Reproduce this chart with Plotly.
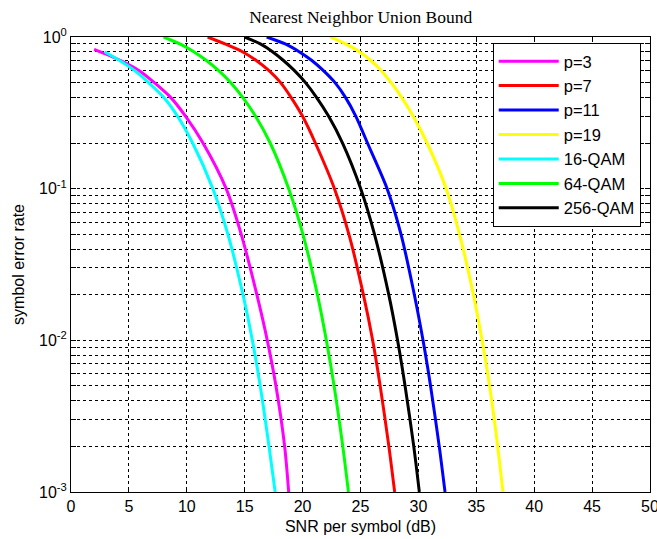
import plotly.graph_objects as go

# ---- data ----
p3_snr  = [2.0, 4.3, 5.9, 7.2, 8.6, 9.9, 11.4, 13.4, 14.7, 16.05, 16.95, 17.7, 18.45, 18.8]
p3_ser  = [0.83, 0.7, 0.6, 0.5, 0.4, 0.3, 0.2, 0.1, 0.05, 0.02, 0.01, 0.005, 0.002, 0.001]

p7_snr  = [11.8, 13.3, 14.8, 16.0, 17.1, 18.1, 19.0, 20.0, 21.1, 22.75, 24.0, 25.25, 26.05, 26.7, 27.45, 27.95]
p7_ser  = [1.0, 0.9, 0.8, 0.7, 0.6, 0.5, 0.4, 0.3, 0.2, 0.1, 0.05, 0.02, 0.01, 0.005, 0.002, 0.001]

p11_snr = [16.9, 18.5, 19.7, 20.8, 21.8, 22.8, 23.7, 24.6, 25.6, 27.3, 28.5, 29.65, 30.4, 31.05, 31.8, 32.3]
p11_ser = [1.0, 0.9, 0.8, 0.7, 0.6, 0.5, 0.4, 0.3, 0.2, 0.1, 0.05, 0.02, 0.01, 0.005, 0.002, 0.001]

p19_snr = [22.4, 23.7, 24.9, 25.9, 26.8, 27.65, 28.55, 29.55, 30.75, 32.4, 33.55, 34.75, 35.5, 36.15, 36.85, 37.3]
p19_ser = [1.0, 0.9, 0.8, 0.7, 0.6, 0.5, 0.4, 0.3, 0.2, 0.1, 0.05, 0.02, 0.01, 0.005, 0.002, 0.001]

qam16_snr = [2.9, 4.2, 5.5, 6.7, 8.0, 9.2, 10.5, 12.25, 13.55, 14.85, 15.66, 16.34, 17.1, 17.63]
qam16_ser = [0.8, 0.7, 0.6, 0.5, 0.4, 0.3, 0.2, 0.1, 0.05, 0.02, 0.01, 0.005, 0.002, 0.001]

qam64_snr = [8.0, 9.4, 10.6, 11.7, 12.75, 13.8, 14.83, 15.94, 17.2, 18.8, 20.03, 21.28, 22.05, 22.72, 23.47, 23.96]
qam64_ser = [1.0, 0.9, 0.8, 0.7, 0.6, 0.5, 0.4, 0.3, 0.2, 0.1, 0.05, 0.02, 0.01, 0.005, 0.002, 0.001]

qam256_snr = [15.0, 16.35, 17.4, 18.35, 19.3, 20.25, 21.2, 22.25, 23.45, 25.02, 26.21, 27.44, 28.2, 28.85, 29.6, 30.08]
qam256_ser = [1.0, 0.9, 0.8, 0.7, 0.6, 0.5, 0.4, 0.3, 0.2, 0.1, 0.05, 0.02, 0.01, 0.005, 0.002, 0.001]

series_names = ["p=3", "p=7", "p=11", "p=19", "16-QAM", "64-QAM", "256-QAM"]
series_colors = ["#ff00ff", "#ff0000", "#0000ff", "#ffff00", "#00ffff", "#00ff00", "#000000"]
series_x = [p3_snr, p7_snr, p11_snr, p19_snr, qam16_snr, qam64_snr, qam256_snr]
series_y = [p3_ser, p7_ser, p11_ser, p19_ser, qam16_ser, qam64_ser, qam256_ser]

x_ticks = [0, 5, 10, 15, 20, 25, 30, 35, 40, 45, 50]
y_decades = [-3, -2, -1, 0]

title_text = "Nearest Neighbor Union Bound"
x_label = "SNR per symbol (dB)"
y_label = "symbol error rate"

# y tick values (major decades + 2..9 minor positions for the grid)
y_tickvals, y_ticktext = [], []
for d in y_decades:
    for m in range(1, 10):
        if d == 0 and m > 1:
            break
        y_tickvals.append(m * 10.0 ** d)
        y_ticktext.append("10<sup>%d</sup>" % d if m == 1 else "")

fig = go.Figure()
for name, color, xs, ys in zip(series_names, series_colors, series_x, series_y):
    fig.add_trace(go.Scatter(x=xs, y=ys, mode="lines", name=name,
                             line=dict(color=color, width=3, shape="spline", smoothing=0.8)))

axis_font = dict(family="Liberation Sans, Arial, sans-serif", size=16, color="#000000")

fig.update_layout(
    width=657, height=539,
    margin=dict(l=71, r=7, t=37, b=47),
    paper_bgcolor="white", plot_bgcolor="white",
    title=dict(text=title_text, x=0.549, xanchor="center", y=0.968, yanchor="middle",
               font=dict(family="Liberation Serif, Times New Roman, serif", size=17.5, color="#000000")),
    showlegend=True,
    legend=dict(x=0.984, y=0.987, xanchor="right", yanchor="top",
                bgcolor="white", bordercolor="#000000", borderwidth=1,
                font=dict(family="Liberation Sans, Arial, sans-serif", size=16.5, color="#000000"),
                itemwidth=60, tracegroupgap=0),
    xaxis=dict(range=[0, 50], tickvals=x_ticks, ticktext=[str(v) for v in x_ticks],
               showgrid=True, gridcolor="#000000", gridwidth=1, griddash="3px,3px",
               showline=True, linecolor="#000000", linewidth=1, mirror="ticks",
               ticks="inside", ticklen=5, tickcolor="#000000", tickfont=axis_font,
               ticklabeloverflow="allow", automargin=False,
               zeroline=False,
               title=dict(text=x_label, font=axis_font, standoff=6)),
    yaxis=dict(type="log", range=[-3, 0], tickvals=y_tickvals, ticktext=y_ticktext,
               showgrid=True, gridcolor="#000000", gridwidth=1, griddash="3px,3px",
               showline=True, linecolor="#000000", linewidth=1, mirror="ticks",
               ticks="inside", ticklen=5, tickcolor="#000000", tickfont=axis_font,
               ticklabeloverflow="allow", automargin=False,
               zeroline=False,
               title=dict(text=y_label, font=axis_font, standoff=10)),
)

fig.write_html("out.html")
